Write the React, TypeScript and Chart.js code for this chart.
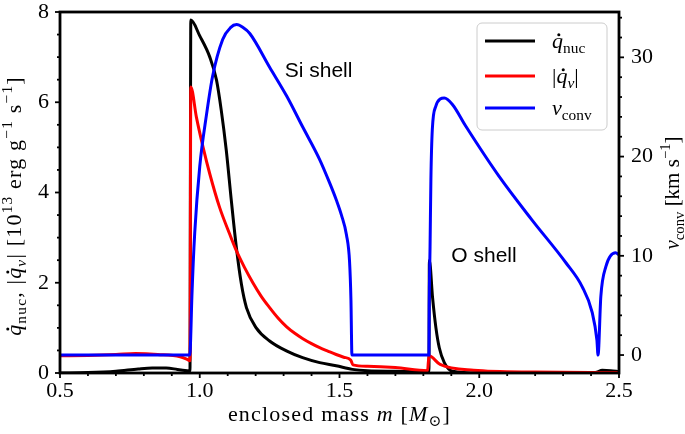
import React, { useEffect, useRef } from 'react';
import { Chart, registerables } from 'chart.js';

Chart.register(...registerables);

// ---- data (enclosed mass in M_sun) ----
const nucMass = [0.5, 0.6, 0.7, 0.78, 0.83, 0.88, 0.92, 0.955, 0.965, 0.968, 1.0, 1.036, 1.06, 1.077, 1.095, 1.113, 1.131, 1.149, 1.167, 1.202, 1.25, 1.31, 1.368, 1.429, 1.488, 1.546, 1.6, 1.7, 1.82, 1.8215, 1.833, 1.845, 1.857, 1.875, 1.904, 2.0, 2.4, 2.42, 2.44, 2.47, 2.5];
const nucRate = [0.0, 0.01, 0.04, 0.09, 0.11, 0.11, 0.08, 0.05, 0.04, 7.82, 7.47, 7.0, 6.49, 5.82, 4.93, 3.82, 2.78, 1.97, 1.45, 1.0, 0.71, 0.49, 0.34, 0.23, 0.16, 0.08, 0.05, 0.04, 0.03, 2.5, 1.67, 1.0, 0.56, 0.23, 0.04, 0.0, 0.0, 0.02, 0.06, 0.05, 0.03];

const nuMass = [0.5, 0.6, 0.7, 0.77, 0.85, 0.93, 0.955, 0.965, 0.968, 0.988, 1.012, 1.036, 1.071, 1.107, 1.131, 1.16, 1.19, 1.22, 1.25, 1.28, 1.31, 1.34, 1.369, 1.4, 1.429, 1.46, 1.488, 1.515, 1.54, 1.548, 1.6, 1.7, 1.815, 1.82, 1.86, 1.98, 2.2, 2.5];
const nuRate = [0.38, 0.39, 0.41, 0.43, 0.41, 0.36, 0.3, 0.27, 6.34, 5.67, 5.0, 4.41, 3.67, 3.08, 2.71, 2.34, 2.0, 1.7, 1.45, 1.22, 1.03, 0.88, 0.76, 0.65, 0.56, 0.48, 0.41, 0.35, 0.29, 0.18, 0.15, 0.12, 0.05, 0.38, 0.19, 0.06, 0.02, 0.01];

const convMass = [0.5, 0.964, 0.966, 0.972, 0.982, 1.0, 1.024, 1.046, 1.082, 1.11, 1.132, 1.155, 1.179, 1.25, 1.311, 1.368, 1.429, 1.464, 1.489, 1.507, 1.525, 1.536, 1.541, 1.5445, 1.82, 1.821, 1.824, 1.827, 1.832, 1.845, 1.86, 1.875, 1.904, 1.952, 2.071, 2.189, 2.31, 2.368, 2.404, 2.421, 2.425, 2.435, 2.453, 2.488, 2.5];
const convVel = [0, 0, 0.5, 6, 12.3, 19.0, 24.2, 28.1, 31.8, 33.0, 33.3, 33.0, 32.4, 29.0, 26.1, 23.0, 19.7, 17.4, 15.6, 14.1, 12.1, 9.4, 5.5, 0, 0, 5.0, 10.9, 17.7, 22.7, 25.1, 25.8, 25.9, 25.25, 23.05, 18.0, 13.6, 9.3, 6.9, 4.3, 1.5, 0, 5.9, 8.9, 10.3, 10.1];

const xTicks = [0.5, 1.0, 1.5, 2.0, 2.5];
const yTicks = [0, 2, 4, 6, 8];
const y1Ticks = [0, 10, 20, 30];

const SERIF = '"Liberation Serif", "DejaVu Serif", serif';
const SANS = '"Liberation Sans", Arial, sans-serif';

type Seg = { t: string; it?: boolean; sub?: boolean; sup?: boolean; dot?: boolean };

const leftTitle: Seg[] = [
  { t: 'q', it: true, dot: true }, { t: 'nuc', sub: true }, { t: ', |' },
  { t: 'q', it: true, dot: true }, { t: 'ν', it: true, sub: true }, { t: '| [10' },
  { t: '13', sup: true }, { t: ' erg g' }, { t: '−1', sup: true }, { t: ' s' }, { t: '−1', sup: true }, { t: ']' },
];
const rightTitle: Seg[] = [{ t: 'v', it: true }, { t: 'conv', sub: true }, { t: ' [km s' }, { t: '−1', sup: true }, { t: ']' }];
const xTitle: Seg[] = [{ t: 'enclosed mass ' }, { t: 'm', it: true }, { t: ' [' }, { t: 'M', it: true }, { t: '⊙', sub: true }, { t: ']' }];
const legendItems: { color: string; label: Seg[] }[] = [
  { color: '#000000', label: [{ t: 'q', it: true, dot: true }, { t: 'nuc', sub: true }] },
  { color: '#ff0000', label: [{ t: '|' }, { t: 'q', it: true, dot: true }, { t: 'ν', it: true, sub: true }, { t: '|' }] },
  { color: '#0000ff', label: [{ t: 'v', it: true }, { t: 'conv', sub: true }] },
];

function segFont(s: Seg, size: number) {
  const sz = s.sub || s.sup ? size * 0.7 : size;
  return `${s.it ? 'italic ' : ''}${sz}px ${SERIF}`;
}
function setSpacing(ctx: any, sp: number) {
  try { ctx.letterSpacing = `${sp}px`; } catch (e) { /* ignore */ }
}
function measureMath(ctx: CanvasRenderingContext2D, segs: Seg[], size: number) {
  let w = 0;
  for (const s of segs) {
    ctx.font = segFont(s, size);
    w += ctx.measureText(s.t).width;
  }
  return w;
}
function drawMath(ctx: CanvasRenderingContext2D, segs: Seg[], x: number, y: number, size: number, align: 'left' | 'center', spacing = 0) {
  setSpacing(ctx, spacing);
  const total = measureMath(ctx, segs, size);
  let cx = align === 'center' ? x - total / 2 : x;
  ctx.textBaseline = 'alphabetic';
  ctx.textAlign = 'left';
  for (const s of segs) {
    ctx.font = segFont(s, size);
    const dy = s.sub ? size * 0.22 : s.sup ? -size * 0.42 : 0;
    ctx.fillText(s.t, cx, y + dy);
    const w = ctx.measureText(s.t).width;
    if (s.dot) {
      ctx.beginPath();
      ctx.arc(cx + (w - spacing) * 0.62, y + dy - size * 0.6, size * 0.07, 0, Math.PI * 2);
      ctx.fill();
    }
    cx += w;
  }
  setSpacing(ctx, 0);
}

const pts = (xs: number[], ys: number[]) => xs.map((x, i) => ({ x, y: ys[i] }));

const decorPlugin = {
  id: 'decor',
  afterDraw(chart: any) {
    const ctx: CanvasRenderingContext2D = chart.ctx;
    const { left, right, top, bottom } = chart.chartArea;
    const sx = chart.scales.x, sy = chart.scales.y, sy1 = chart.scales.y1;
    ctx.save();
    ctx.fillStyle = '#000';
    ctx.strokeStyle = '#000';

    // ticks (outward)
    ctx.lineWidth = 1.8;
    const tick = (x1: number, y1: number, x2: number, y2: number) => {
      ctx.beginPath(); ctx.moveTo(x1, y1); ctx.lineTo(x2, y2); ctx.stroke();
    };
    for (let i = 0; i <= 20; i++) {
      const v = 0.5 + i * 0.1;
      const px = sx.getPixelForValue(v);
      tick(px, bottom, px, bottom + (i % 5 === 0 ? 5 : 3));
    }
    for (let i = 0; i <= 16; i++) {
      const v = i * 0.5;
      const py = sy.getPixelForValue(v);
      tick(left, py, left - (i % 4 === 0 ? 5 : 3), py);
    }
    for (let v = 0; v <= 34; v += 2) {
      const py = sy1.getPixelForValue(v);
      tick(right, py, right + (v % 10 === 0 ? 5 : 3), py);
    }

    // frame
    ctx.lineWidth = 2.8;
    ctx.strokeRect(left, top, right - left, bottom - top);

    // axis titles
    drawMath(ctx, xTitle, (left + right) / 2, 421, 22, 'center', 1.2);
    ctx.save();
    ctx.translate(21, 206);
    ctx.rotate(-Math.PI / 2);
    drawMath(ctx, leftTitle, 0, 0, 22, 'center', 1.2);
    ctx.restore();
    ctx.save();
    ctx.translate(679, 193);
    ctx.rotate(-Math.PI / 2);
    drawMath(ctx, rightTitle, 0, 0, 21, 'center');
    ctx.restore();

    // annotations
    ctx.font = `21px ${SANS}`;
    ctx.textAlign = 'left';
    ctx.textBaseline = 'alphabetic';
    ctx.fillText('Si shell', sx.getPixelForValue(1.304), sy.getPixelForValue(6.55));
    ctx.fillText('O shell', sx.getPixelForValue(1.9), sy.getPixelForValue(2.45));

    // legend
    const bx = 477, by = 23, bw = 130, bh = 107, r = 5;
    ctx.beginPath();
    ctx.moveTo(bx + r, by);
    ctx.arcTo(bx + bw, by, bx + bw, by + bh, r);
    ctx.arcTo(bx + bw, by + bh, bx, by + bh, r);
    ctx.arcTo(bx, by + bh, bx, by, r);
    ctx.arcTo(bx, by, bx + bw, by, r);
    ctx.closePath();
    ctx.fillStyle = 'rgba(255,255,255,0.8)';
    ctx.fill();
    ctx.lineWidth = 1;
    ctx.strokeStyle = '#cccccc';
    ctx.stroke();
    const rows = [41, 76, 108];
    legendItems.forEach((it, i) => {
      ctx.strokeStyle = it.color;
      ctx.lineWidth = 3;
      ctx.beginPath();
      ctx.moveTo(485, rows[i]);
      ctx.lineTo(535, rows[i]);
      ctx.stroke();
      ctx.fillStyle = '#000';
      drawMath(ctx, it.label, 552, rows[i] + 7, 22, 'left');
    });
    ctx.restore();
  },
};

export default function App() {
  const ref = useRef<HTMLCanvasElement | null>(null);
  useEffect(() => {
    if (!ref.current) return;
    const common = { borderWidth: 3, pointRadius: 0, fill: false, cubicInterpolationMode: 'monotone' as const };
    const tickFont = { family: SERIF, size: 22 };
    const chart = new Chart(ref.current, {
      type: 'line',
      data: {
        datasets: [
          { ...common, label: 'q_nuc', data: pts(nucMass, nucRate), borderColor: '#000000', yAxisID: 'y', order: 2 },
          { ...common, label: '|q_nu|', data: pts(nuMass, nuRate), borderColor: '#ff0000', yAxisID: 'y', order: 1 },
          { ...common, label: 'v_conv', data: pts(convMass, convVel), borderColor: '#0000ff', yAxisID: 'y1', order: 0 },
        ],
      },
      options: {
        animation: false,
        responsive: false,
        devicePixelRatio: 1,
        layout: { padding: { top: 12, left: 0, right: 0, bottom: 0 } },
        plugins: { legend: { display: false }, tooltip: { enabled: false } },
        scales: {
          x: {
            type: 'linear', min: 0.5, max: 2.5,
            grid: { display: false, drawTicks: false }, border: { display: false },
            ticks: { font: tickFont, color: '#000', padding: 5, maxRotation: 0, callback: (v: any) => Number(v).toFixed(1) },
            afterBuildTicks: (s: any) => { s.ticks = xTicks.map((value) => ({ value })); },
            afterFit: (s: any) => { s.height = 61; s.paddingLeft = 0; s.paddingRight = 0; },
          },
          y: {
            type: 'linear', position: 'left', min: 0, max: 8,
            grid: { display: false, drawTicks: false }, border: { display: false },
            ticks: { font: tickFont, color: '#000', padding: 11 },
            afterBuildTicks: (s: any) => { s.ticks = yTicks.map((value) => ({ value })); },
            afterFit: (s: any) => { s.width = 60; s.paddingTop = 0; s.paddingBottom = 0; },
          },
          y1: {
            type: 'linear', position: 'right', min: -1.81, max: 34.57,
            grid: { display: false, drawTicks: false }, border: { display: false },
            ticks: { font: tickFont, color: '#000', padding: 12 },
            afterBuildTicks: (s: any) => { s.ticks = y1Ticks.map((value) => ({ value })); },
            afterFit: (s: any) => { s.width = 66; s.paddingTop = 0; s.paddingBottom = 0; },
          },
        },
      } as any,
      plugins: [decorPlugin],
    });
    return () => chart.destroy();
  }, []);
  return (
    <div style={{ position: 'absolute', left: 0, top: 0, width: 685, height: 434, background: '#fff' }}>
      <canvas ref={ref} width={685} height={434} style={{ display: 'block' }} />
    </div>
  );
}
